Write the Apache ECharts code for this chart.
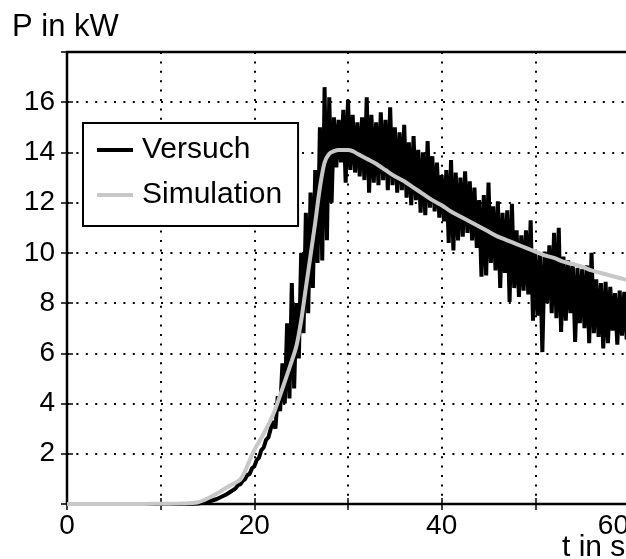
<!DOCTYPE html>
<html>
<head>
<meta charset="utf-8">
<script src="https://cdn.jsdelivr.net/npm/echarts@6/dist/echarts.min.js"></script>
<style>
html,body{margin:0;padding:0;background:#fff;}
#chart{width:626px;height:559px;}
</style>
</head>
<body>
<div id="chart"></div>
<script>
// ---- data ----
const xLabelValues = [0, 20, 40, 60];
const yLabelValues = [2, 4, 6, 8, 10, 12, 14, 16];
const seriesNames = ['Versuch', 'Simulation'];
const yTitle = 'P in kW';
const xTitle = 't in s';

// Versuch (measurement): quiet start as [t, P] pairs
const versuchEarly = [[0,0],[13,0],[14,0.02],[15,0.08],[16,0.2],[17,0.38],[17.5,0.5]];
// Versuch from t = 18 s, one value every 0.25 s
const versuchStart = 18;
const versuchStep = 0.25;
const versuchValues = [
  0.62,0.75,0.78,0.92,0.98,1.15,1.20,1.42,
  1.50,1.75,1.85,2.15,2.25,2.55,2.65,3.00,
  3.30,3.00,4.30,3.70,5.60,4.00,7.20,4.20,
  8.80,4.60,8.00,5.80,10.0,6.80,11.6,7.60,
  12.4,8.60,13.3,9.60,15.0,9.70,16.6,10.5,
  16.2,12.0,15.4,13.4,15.3,13.6,15.7,12.8,
  16.1,13.3,15.5,13.2,15.2,13.05,15.4,12.9,
  16.2,12.4,15.5,12.8,15.2,12.7,15.6,12.9,
  15.3,12.5,15.8,12.7,15.0,12.4,14.8,12.5,
  15.1,12.2,14.4,11.9,14.65,12.1,14.1,11.6,
  14.0,11.5,14.45,11.8,13.85,11.65,13.6,11.4,
  13.1,11.25,13.3,10.4,13.7,10.1,13.2,10.5,
  13.0,10.65,13.25,10.8,12.85,10.5,12.6,10.2,
  12.1,9.05,12.3,9.1,12.8,9.6,11.85,9.3,
  12.05,8.6,11.6,9.2,11.7,8.05,11.95,8.6,
  10.9,8.25,10.7,8.5,10.9,8.35,11.3,7.3,
  10.05,7.5,10.0,6.05,10.05,8.0,10.3,7.6,
  10.8,7.4,11.0,6.85,9.85,7.3,9.7,7.6,
  9.6,6.45,9.4,7.2,9.35,7.0,9.5,6.4,
  10.0,6.8,8.95,6.65,8.8,6.2,8.85,6.4,
  8.65,6.9,8.4,6.35,8.5,6.7,8.45,6.55,
  8.3
];

// Simulation: [t, P]
const simulation = [
  [0,0],[8,0],[10,0.01],[12,0.02],[13,0.03],[14,0.07],[15,0.22],[16,0.42],[17,0.65],
  [18,0.85],[18.5,0.97],[19,1.3],[20,2.15],[21,2.8],[22,3.55],[23,4.6],[24,5.7],
  [24.5,6.3],[25,7.3],[25.5,8.6],[26,9.9],[26.5,11.2],[27,12.6],[27.5,13.6],[28,13.95],
  [28.5,14.05],[29,14.1],[30,14.1],[30.5,14.05],[31,13.95],[32,13.75],[33,13.55],[34,13.3],
  [35,13.05],[36,12.85],[37,12.6],[38,12.35],[39,12.1],[40,11.9],[41,11.65],[42,11.45],
  [43,11.25],[44,11.05],[45,10.85],[46,10.65],[47,10.5],[48,10.35],[49,10.2],[50,10.05],
  [51,9.9],[52,9.8],[53,9.65],[54,9.55],[55,9.45],[56,9.3],[57,9.2],[58,9.1],[59,9.0],[60,8.9]
];

// ---- build ----
const versuch = versuchEarly.concat(
  versuchValues.map((v, i) => [versuchStart + i * versuchStep, v])
);

const FONT = '"Liberation Sans", Arial, Helvetica, sans-serif';
const dotted = { color: '#000', width: 2, type: [2, 7.4] };
const tickIn = { show: true, inside: true, length: 6, lineStyle: { color: '#000', width: 1.5 } };

const chart = echarts.init(document.getElementById('chart'), null, { renderer: 'canvas' });
chart.setOption({
  animation: false,
  backgroundColor: '#fff',
  grid: {
    left: 67, top: 52, width: 562, height: 452,
    outerBoundsMode: 'none', containLabel: false,
    show: true, borderColor: '#000', borderWidth: 2.5, backgroundColor: '#fff'
  },
  xAxis: [
    {
      type: 'value', min: 0, max: 60, interval: 10, position: 'bottom',
      axisLine: { show: false },
      axisTick: tickIn,
      axisLabel: {
        margin: 8, color: '#000', fontFamily: FONT, fontSize: 28,
        showMinLabel: true, showMaxLabel: true, alignMaxLabel: 'right',
        formatter: v => xLabelValues.includes(v) ? String(v) : ''
      },
      splitLine: { show: true, lineStyle: dotted }
    },
    {
      type: 'value', min: 0, max: 60, interval: 10, position: 'top',
      axisLine: { show: false }, axisTick: tickIn,
      axisLabel: { show: false }, splitLine: { show: false }
    }
  ],
  yAxis: [
    {
      type: 'value', min: 0, max: 18, interval: 2, position: 'left',
      axisLine: { show: false },
      axisTick: tickIn,
      axisLabel: {
        margin: 12, color: '#000', fontFamily: FONT, fontSize: 28,
        formatter: v => yLabelValues.includes(v) ? String(v) : ''
      },
      splitLine: { show: true, lineStyle: dotted }
    },
    {
      type: 'value', min: 0, max: 18, interval: 2, position: 'right',
      axisLine: { show: false }, axisTick: tickIn,
      axisLabel: { show: false }, splitLine: { show: false }
    }
  ],
  legend: {
    orient: 'vertical', left: 83, top: 123,
    padding: [10, 16, 14, 14], itemGap: 11,
    icon: 'rect', itemWidth: 36, itemHeight: 4,
    backgroundColor: '#fff', borderColor: '#000', borderWidth: 2, borderRadius: 0,
    textStyle: { fontFamily: FONT, fontSize: 30, color: '#000', lineHeight: 34, padding: [0, 0, 0, 4] },
    data: seriesNames
  },
  graphic: [
    { type: 'text', left: 12, top: 12, style: { text: yTitle, font: '31px ' + FONT, fill: '#000' } },
    { type: 'text', left: 562, top: 533, style: { text: xTitle, font: '30px ' + FONT, fill: '#000' } }
  ],
  series: [
    {
      name: seriesNames[0], type: 'line', data: versuch, xAxisIndex: 0, yAxisIndex: 0,
      symbol: 'none', lineStyle: { color: '#000', width: 4 }, itemStyle: { color: '#000' },
      z: 3
    },
    {
      name: seriesNames[1], type: 'line', data: simulation, xAxisIndex: 0, yAxisIndex: 0,
      symbol: 'none', smooth: 0.3, lineStyle: { color: '#c8c8c8', width: 4 }, itemStyle: { color: '#c8c8c8' },
      z: 4
    }
  ]
});
</script>
</body>
</html>
